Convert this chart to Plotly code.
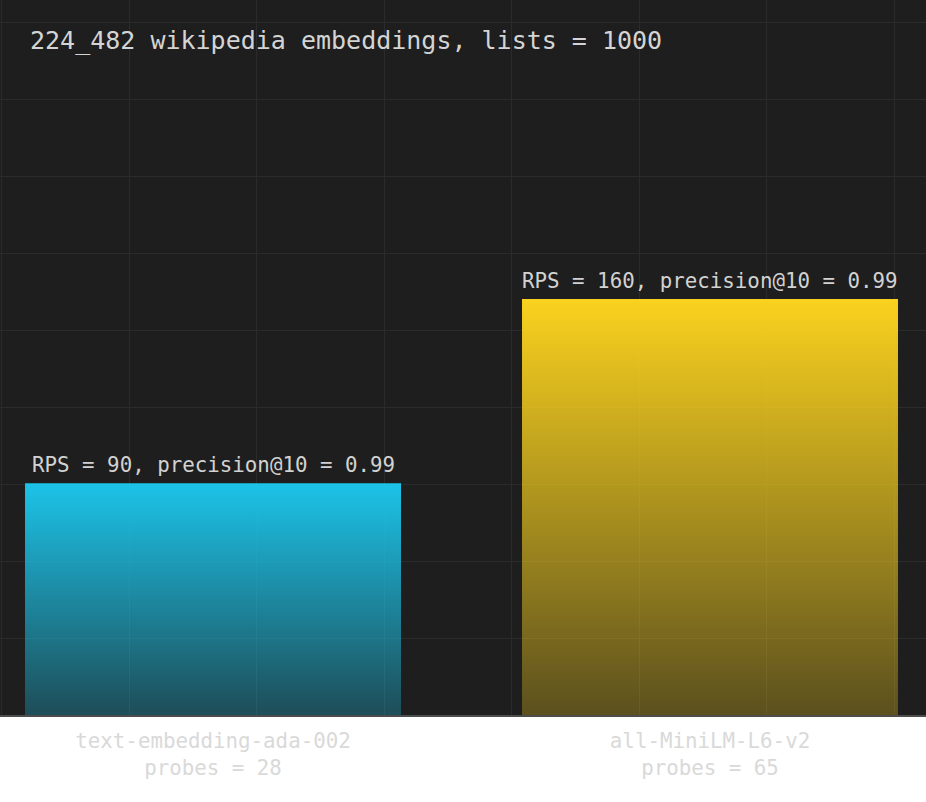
import plotly.graph_objects as go

# ---- data ----
models = ["text-embedding-ada-002", "all-MiniLM-L6-v2"]
probes = [28, 65]
rps = [90, 160]
precision_at_10 = [0.99, 0.99]
title_text = "224_482 wikipedia embeddings, lists = 1000"

# ---- style ----
bar_colors = [(28, 195, 232), (250, 210, 30)]
bar_width = 0.7565
font_family = "DejaVu Sans Mono, Liberation Mono, monospace"
bg = "#1e1e1e"
grid = "#2b2b2b"

fig = go.Figure()
for i, (m, v, c) in enumerate(zip(models, rps, bar_colors)):
    r, g, b = c
    x0, x1 = i - bar_width / 2, i + bar_width / 2
    fig.add_trace(go.Scatter(
        x=[x0, x0, x1, x1, x0], y=[0, v, v, 0, 0],
        mode="lines", line=dict(width=0), fill="toself",
        fillgradient=dict(
            type="vertical", start=0, stop=v,
            colorscale=[[0, f"rgba({r},{g},{b},0.27)"], [1, f"rgba({r},{g},{b},1)"]],
        ),
        hoverinfo="skip", showlegend=False, name=m,
    ))
    fig.add_annotation(
        x=i, y=v, xref="x", yref="y",
        text=f"RPS = {v}, precision@10 = {precision_at_10[i]}",
        showarrow=False, yanchor="bottom", xanchor="center", yshift=4,
        font=dict(family=font_family, size=20.8, color="#d2d2d2"),
    )

fig.add_annotation(
    x=28 / 926, y=1 - 41 / 715, xref="paper", yref="paper",
    text=title_text, showarrow=False, xanchor="left", yanchor="middle",
    font=dict(family=font_family, size=25, color="#d4d4d4"),
)

fig.update_layout(
    width=926, height=802,
    margin=dict(l=0, r=0, t=0, b=87),
    paper_bgcolor="white", plot_bgcolor=bg,
    showlegend=False,
    font=dict(family=font_family),
)
fig.update_xaxes(
    range=[-0.4286, 1.4346], fixedrange=True,
    tickmode="array", tickvals=list(range(len(models))),
    ticktext=[f"{m}<br>probes = {p}" for m, p in zip(models, probes)],
    tickfont=dict(family=font_family, size=20.8, color="#d9d9d9"),
    ticklabelstandoff=6,
    showgrid=False, zeroline=False, ticks="",
    showline=True, linecolor="#4d4d4d", linewidth=2,
    minor=dict(showgrid=True, gridcolor=grid, gridwidth=1.3, tick0=-0.4246, dtick=0.25654, ticks=""),
)
fig.update_yaxes(
    range=[2.0, 273.6], fixedrange=True,
    showticklabels=False, ticks="", zeroline=False,
    showgrid=True, gridcolor=grid, gridwidth=1.3, tick0=2.0, dtick=29.24,
)

fig.write_html(
    "out.html",
    config={"displayModeBar": False},
    post_script="document.body.style.margin='0';document.body.style.overflow='hidden';",
)
